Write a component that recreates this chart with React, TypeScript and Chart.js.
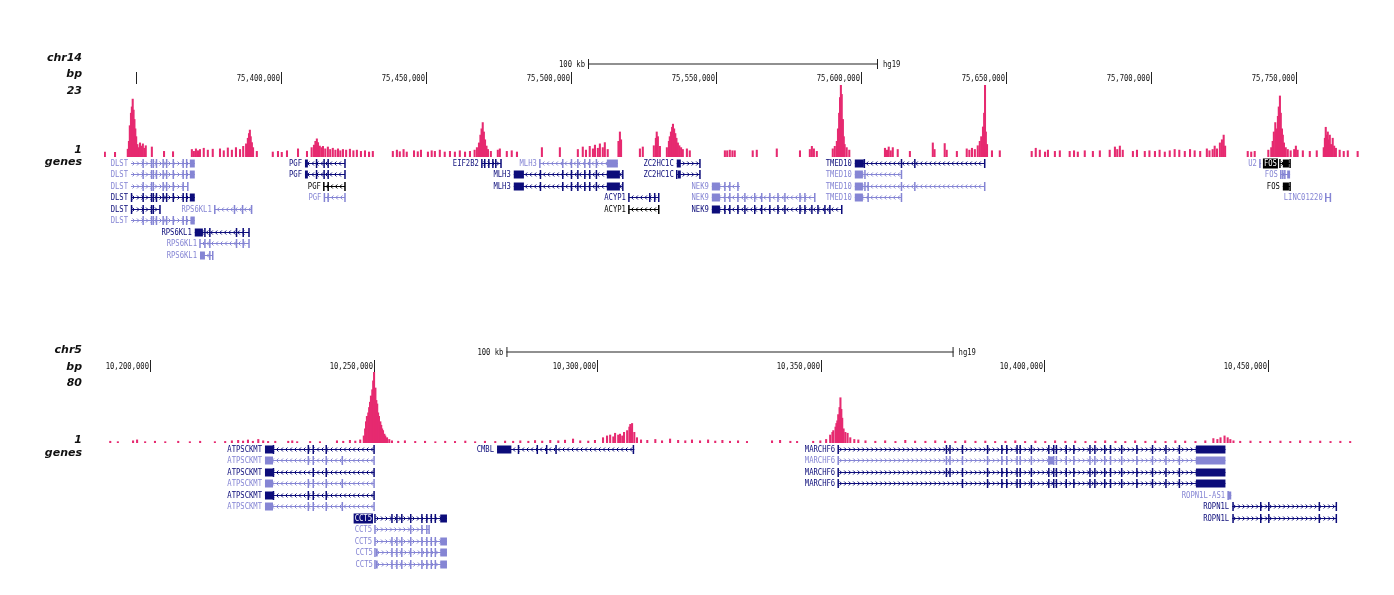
import { useEffect, useRef } from "react";
import { Chart, registerables } from "chart.js";

Chart.register(...registerables);

// ---------------- data ----------------
// chr14 view (kb) and signal bars [position kb, value]
const chr14Range = [75339.0, 75772.8];
const chr14Ticks = [75350, 75400, 75450, 75500, 75550, 75600, 75650, 75700, 75750];
const chr14TickLabels = ["", "75,400,000", "75,450,000", "75,500,000", "75,550,000", "75,600,000", "75,650,000", "75,700,000", "75,750,000"];
const chr14Signal: number[][] = [
  [75339.3, 1.6], [75342.8, 1.5],
  [75347.2, 2.5], [75347.6, 5], [75347.9, 10], [75348.3, 14], [75348.6, 16], [75348.9, 18.5], [75349.2, 15], [75349.5, 12], [75349.8, 9], [75350.1, 6.5], [75350.5, 4], [75350.9, 3],
  [75351.4, 4.5], [75351.9, 3.5], [75352.4, 4.2], [75352.9, 2.8], [75353.4, 3.6], [75355.5, 3.2], [75359.7, 1.8], [75362.8, 1.7],
  [75369.3, 2.4], [75370.0, 1.8], [75370.7, 2.6], [75371.4, 2.0], [75372.1, 2.4], [75373.4, 2.8], [75374.8, 2.2], [75376.5, 2.5], [75379.0, 2.6], [75380.3, 2.0], [75381.7, 2.9], [75383.1, 2.2], [75384.5, 3.0], [75385.9, 2.4], [75387.0, 3.4], [75388.0, 4.2], [75388.6, 6], [75389.0, 7.5], [75389.3, 8.6], [75389.6, 6.5], [75390.0, 4.6], [75390.4, 3], [75391.7, 1.8],
  [75397.2, 1.6], [75399.0, 1.8], [75400.3, 1.5], [75402.1, 2.0], [75405.9, 2.6], [75409.0, 1.8],
  [75410.6, 3], [75411.4, 3.8], [75411.9, 5], [75412.4, 5.8], [75412.8, 4.6], [75413.4, 3.5], [75414.0, 3], [75414.5, 3.4], [75415.3, 2.6], [75416.2, 3.2], [75417.0, 2.4], [75417.9, 2.8], [75418.8, 2.2], [75419.7, 2.6], [75420.5, 2.0], [75421.4, 2.4], [75422.5, 2.2], [75423.8, 2.5], [75425.0, 2.0], [75426.2, 2.2], [75427.6, 1.8], [75429.0, 2.0], [75430.4, 1.6], [75431.7, 1.8],
  [75438.6, 1.8], [75440.0, 2.2], [75441.0, 1.7], [75442.3, 2.4], [75443.4, 1.6], [75445.9, 2.0], [75447.2, 1.7], [75448.3, 2.2], [75450.7, 1.6], [75452.0, 2.0], [75453.1, 1.8], [75454.8, 2.2], [75456.5, 1.6], [75458.3, 1.8], [75460.0, 1.6], [75461.7, 2.0], [75463.5, 1.6], [75465.2, 1.8],
  [75466.8, 2.2], [75467.6, 3], [75468.3, 4.5], [75468.8, 7], [75469.2, 9], [75469.6, 11], [75470.0, 8], [75470.4, 5.5], [75470.9, 3.5], [75471.4, 2.4], [75472.4, 1.8],
  [75474.8, 2.2], [75475.5, 2.6], [75477.9, 1.8], [75479.6, 2.0], [75481.4, 1.6], [75490.0, 3], [75496.2, 3],
  [75502.4, 2.4], [75504.1, 3.2], [75505.2, 2.2], [75506.5, 3.4], [75507.6, 2.6], [75508.3, 3.8], [75509.3, 2.8], [75510.0, 4.2], [75511.0, 3.0], [75511.7, 4.6], [75512.7, 2.4], [75516.4, 5], [75516.9, 8], [75517.3, 5.5],
  [75523.8, 2.6], [75524.8, 3.2], [75528.6, 3.6], [75529.3, 6], [75529.6, 8], [75530.0, 6.5], [75530.7, 3.4],
  [75533.1, 3], [75533.8, 5], [75534.1, 6.5], [75534.5, 8], [75534.9, 9.5], [75535.2, 10.5], [75535.6, 9], [75536.0, 7.5], [75536.4, 6], [75536.9, 4.5], [75537.4, 3.6], [75538.0, 3], [75538.6, 2.4], [75540.0, 2.6], [75541.0, 2.0],
  [75553.1, 2.0], [75553.9, 2.0], [75554.8, 2.2], [75555.7, 2.0], [75556.5, 2.0], [75562.7, 2.0], [75564.1, 2.2], [75571.0, 2.6], [75579.0, 2.0], [75582.4, 2.4], [75583.1, 3.4], [75583.8, 2.6], [75584.8, 1.8],
  [75590.3, 2.6], [75591.0, 3.4], [75591.7, 5], [75592.1, 9], [75592.5, 14], [75592.8, 19], [75593.1, 23], [75593.4, 20], [75593.8, 12], [75594.1, 6.5], [75594.4, 4], [75595.1, 3], [75596.0, 2.2],
  [75608.3, 2.8], [75609.0, 2.2], [75609.6, 3.2], [75610.3, 2.0], [75611.0, 3.0], [75612.7, 2.4], [75616.9, 1.8], [75624.8, 4.5], [75625.4, 2.4], [75628.9, 4.3], [75629.6, 2.2], [75633.1, 1.8], [75636.5, 2.6], [75637.4, 2.2], [75638.3, 2.8], [75639.3, 2.4],
  [75640.3, 3.6], [75641.0, 5], [75641.5, 6.5], [75642.1, 9.6], [75642.5, 14], [75642.8, 23], [75643.1, 8], [75643.5, 4], [75645.2, 2.0], [75647.9, 2.0],
  [75658.9, 1.8], [75660.3, 2.8], [75661.7, 2.2], [75663.5, 1.6], [75664.5, 2.2], [75666.9, 1.8], [75668.6, 2.0], [75672.0, 1.8], [75673.5, 2.0], [75674.8, 1.6], [75677.2, 2.0], [75680.0, 1.8], [75682.4, 2.0],
  [75685.8, 2.2], [75687.6, 3.2], [75688.4, 2.4], [75689.3, 3.5], [75690.3, 2.2],
  [75693.8, 1.8], [75695.2, 2.2], [75697.9, 1.8], [75699.5, 2.0], [75701.4, 1.8], [75703.0, 2.2], [75704.8, 1.6], [75706.5, 2.0], [75708.2, 2.4], [75709.8, 2.2], [75711.7, 1.8], [75713.5, 2.4], [75715.1, 2.0], [75717.0, 1.8], [75719.3, 2.6], [75720.2, 2.0],
  [75721.3, 2.4], [75722.0, 3.5], [75722.8, 2.6], [75723.8, 4.5], [75724.5, 5.5], [75725.1, 7], [75725.6, 3.5],
  [75733.4, 1.8], [75734.6, 1.6], [75735.8, 1.8],
  [75740.5, 2.2], [75741.5, 3], [75742.0, 5], [75742.4, 8], [75742.9, 11], [75743.4, 9], [75743.8, 13], [75744.1, 16], [75744.5, 19.5], [75744.8, 14], [75745.2, 9], [75745.5, 7], [75745.9, 4.5], [75746.5, 3], [75747.2, 2.4], [75748.2, 2.0], [75749.4, 2.4], [75750.0, 3.5], [75750.6, 2.2], [75752.4, 2.0], [75754.8, 1.8], [75757.2, 2.0],
  [75759.6, 3], [75760.0, 6], [75760.3, 9.5], [75760.6, 7], [75761.0, 8], [75761.4, 5.5], [75761.7, 7], [75762.1, 4], [75762.7, 6], [75763.2, 3.5], [75763.8, 2.8], [75765.1, 2.2], [75766.5, 1.8], [75767.9, 2.0], [75771.3, 1.8],
];

// chr5 view (kb) and signal bars [position kb, value]
const chr5Range = [10189.7, 10469.7];
const chr5Ticks = [10200, 10250, 10300, 10350, 10400, 10450];
const chr5TickLabels = ["10,200,000", "10,250,000", "10,300,000", "10,350,000", "10,400,000", "10,450,000"];
const chr5Signal: number[][] = [
  [10191.1, 2], [10192.8, 1.5], [10196.2, 2.5], [10197.1, 3.5], [10198.9, 1.5], [10201.1, 2], [10203.4, 1.5], [10206.3, 2], [10208.9, 1.5], [10211.2, 2], [10214.5, 1.5], [10216.8, 1.8],
  [10218.3, 2.5], [10219.7, 3], [10220.8, 2.2], [10221.9, 3.4], [10223.0, 2], [10224.2, 4], [10225.3, 2.5], [10226.4, 1.8], [10228.0, 2], [10230.9, 2], [10231.8, 2.5], [10232.9, 1.5], [10235.8, 1.8], [10238.0, 1.5], [10241.8, 2.5], [10243.2, 2], [10244.7, 3], [10245.9, 2.2], [10247.0, 3.5],
  [10247.8, 8], [10248.1, 16], [10248.3, 24], [10248.5, 30], [10248.8, 34], [10249.0, 40], [10249.2, 46], [10249.4, 53], [10249.7, 60], [10249.9, 70], [10250.1, 80], [10250.4, 62], [10250.6, 48], [10250.8, 44], [10251.0, 34], [10251.2, 30], [10251.5, 24], [10251.7, 20], [10251.9, 16], [10252.1, 14], [10252.4, 10], [10252.6, 8], [10253.0, 6], [10253.5, 4],
  [10254.1, 2.5], [10255.5, 2], [10257.0, 2.5], [10259.3, 1.8], [10261.5, 2], [10263.8, 1.5], [10266.0, 2], [10268.2, 1.8], [10270.5, 2.2], [10272.7, 1.5], [10274.9, 2], [10277.2, 1.8], [10279.4, 2.2], [10281.2, 2], [10282.8, 2.5], [10284.6, 2], [10286.1, 2.8], [10287.7, 2.2], [10289.5, 3], [10291.3, 2.5], [10292.8, 3.2], [10294.6, 4.5], [10296.2, 2.5], [10298.0, 2.2], [10299.5, 3],
  [10301.3, 6], [10302.2, 8], [10302.9, 9], [10303.6, 7], [10304.0, 11], [10304.7, 9], [10305.1, 10], [10305.6, 8], [10306.0, 12], [10306.7, 14], [10307.2, 18], [10307.4, 21], [10307.6, 16], [10307.8, 22], [10308.3, 12], [10308.9, 6], [10309.8, 3.5],
  [10311.2, 3], [10313.0, 4], [10314.5, 2.5], [10316.3, 4.5], [10318.1, 3], [10319.7, 2.5], [10321.2, 3.5], [10323.0, 2.5], [10324.8, 3.5], [10326.4, 2.2], [10328.0, 3], [10329.7, 2], [10331.5, 2.5], [10333.5, 1.8],
  [10339.1, 2.5], [10340.9, 3], [10343.2, 2], [10344.7, 1.8], [10348.3, 2], [10349.9, 2.5], [10351.2, 4],
  [10352.1, 9], [10352.6, 12], [10352.8, 14], [10353.3, 18], [10353.5, 22], [10353.7, 25], [10353.9, 32], [10354.2, 40], [10354.4, 51], [10354.6, 38], [10354.8, 28], [10355.1, 16], [10355.5, 12], [10356.0, 11], [10356.6, 6], [10357.5, 4], [10358.4, 3.5],
  [10360.0, 2.5], [10362.2, 2], [10364.4, 2.5], [10366.7, 1.8], [10368.9, 3], [10371.1, 2.2], [10373.4, 2], [10375.6, 2.5], [10377.8, 2.2], [10380.1, 1.8], [10382.3, 2.5], [10384.6, 2], [10386.8, 2.2], [10389.0, 1.8], [10391.3, 2], [10393.5, 2.5], [10395.7, 1.8], [10398.0, 2.2], [10400.2, 1.8], [10402.4, 2.5], [10404.7, 2], [10406.9, 2.2], [10409.2, 1.8], [10411.4, 2], [10413.6, 2.5], [10415.9, 2], [10418.1, 1.8], [10420.3, 2.5], [10422.6, 2], [10424.8, 2.2], [10427.1, 1.8], [10429.3, 2.5], [10431.5, 2.2], [10433.8, 1.8], [10436.0, 2.5],
  [10437.8, 5], [10438.7, 4], [10439.4, 6], [10440.3, 8], [10441.0, 6], [10441.6, 4], [10442.3, 2.5],
  [10443.8, 2], [10446.1, 2.2], [10448.3, 1.8], [10450.5, 2], [10452.8, 2.2], [10455.0, 1.8], [10457.2, 2.5], [10459.5, 2], [10461.7, 2.2], [10464.0, 1.8], [10466.2, 2], [10468.4, 1.8],
];

// genes: name, row, colour, strand, start kb, end kb, exon ticks kb, blocks kb, boxed label
type Gene = { name: string; row: number; color: string; strand: number; start: number; end: number; exons: number[]; blocks: number[][]; boxed?: boolean };
const G = (name: string, row: number, color: string, strand: number, start: number, end: number, exons: number[], blocks: number[][] = [], boxed = false): Gene =>
  ({ name, row, color, strand, start, end, exons, blocks, boxed });

const dlstEx = [75352.5, 75355.4, 75356.0, 75357.1, 75359.4, 75360.6, 75362.9, 75366.3, 75367.5];
const nek9Ex = [75553.1, 75554.8, 75557.6, 75560.0, 75563.4, 75565.8, 75568.6, 75571.4, 75573.8, 75579.0, 75580.7, 75583.1, 75585.2, 75587.6, 75589.3, 75593.4];
const chr14Genes: Gene[] = [
  G("DLST", 0, "light", 1, 75348.3, 75370.3, dlstEx, [[75368.6, 75370.3]]),
  G("DLST", 1, "light", 1, 75348.3, 75370.3, dlstEx, [[75368.6, 75370.3]]),
  G("DLST", 2, "light", 1, 75348.3, 75367.9, [75352.5, 75355.4, 75356.0, 75359.4, 75360.6, 75362.9, 75366.3, 75367.9]),
  G("DLST", 3, "dark", 1, 75348.3, 75370.3, [75348.5, ...dlstEx], [[75368.6, 75370.3]]),
  G("DLST", 4, "dark", 1, 75348.3, 75358.3, [75348.5, 75352.5, 75355.4, 75356.0, 75358.3]),
  G("DLST", 5, "light", 1, 75348.3, 75370.3, dlstEx, [[75368.8, 75370.3]]),
  G("RPS6KL1", 4, "light", -1, 75377.2, 75389.9, [75377.2, 75384.0, 75386.8, 75389.9]),
  G("RPS6KL1", 6, "dark", -1, 75370.3, 75389.0, [75373.8, 75375.5, 75384.7, 75387.0, 75389.0], [[75370.3, 75373.1]]),
  G("RPS6KL1", 7, "light", -1, 75372.1, 75389.0, [75372.1, 75373.8, 75375.5, 75384.7, 75387.0, 75389.0]),
  G("RPS6KL1", 8, "light", -1, 75372.1, 75376.5, [75375.5, 75376.5], [[75372.1, 75373.8]]),
  G("PGF", 0, "dark", -1, 75408.3, 75422.1, [75412.3, 75414.9, 75416.3, 75422.1], [[75408.3, 75409.3]]),
  G("PGF", 1, "dark", -1, 75408.3, 75422.1, [75412.3, 75414.9, 75416.3, 75422.1], [[75408.3, 75409.3]]),
  G("PGF", 2, "black", -1, 75414.8, 75422.1, [75414.8, 75416.3, 75422.1]),
  G("PGF", 3, "light", -1, 75415.0, 75422.1, [75415.0, 75416.3, 75422.1]),
  G("EIF2B2", 0, "dark", 1, 75469.3, 75475.9, [75469.3, 75470.3, 75471.7, 75473.1, 75474.1, 75475.9]),
  G("MLH3", 0, "light", -1, 75489.3, 75516.2, [75489.3, 75497.2, 75500.2, 75502.4, 75504.8, 75506.5, 75508.8], [[75512.4, 75516.2]]),
  G("MLH3", 1, "dark", -1, 75480.3, 75517.9, [75489.5, 75497.2, 75500.2, 75502.4, 75504.8, 75506.5, 75508.8, 75517.9], [[75480.3, 75483.8], [75512.4, 75516.9]]),
  G("MLH3", 2, "dark", -1, 75480.3, 75517.9, [75489.5, 75497.2, 75500.2, 75502.4, 75504.8, 75506.5, 75508.8, 75517.9], [[75480.3, 75483.8], [75512.4, 75516.9]]),
  G("ACYP1", 3, "dark", -1, 75520.0, 75530.3, [75520.0, 75527.2, 75528.9, 75530.3]),
  G("ACYP1", 4, "black", -1, 75520.0, 75530.3, [75520.0, 75530.3]),
  G("ZC2HC1C", 0, "dark", 1, 75536.5, 75544.5, [75544.5], [[75536.5, 75537.9]]),
  G("ZC2HC1C", 1, "dark", 1, 75536.5, 75544.5, [75536.5, 75544.5], [[75536.9, 75537.9]]),
  G("NEK9", 2, "light", -1, 75548.6, 75558.3, [75553.1, 75554.8, 75557.6], [[75548.6, 75551.4]]),
  G("NEK9", 3, "light", -1, 75548.6, 75584.1, [75553.1, 75554.8, 75557.6, 75560.0, 75563.4, 75565.8, 75568.6, 75571.4, 75573.8, 75579.0, 75580.7, 75584.1], [[75548.6, 75551.4]]),
  G("NEK9", 4, "dark", -1, 75548.6, 75593.4, nek9Ex, [[75548.6, 75551.4]]),
  G("TMED10", 0, "dark", -1, 75597.9, 75642.7, [75601.2, 75614.0, 75618.6, 75642.7], [[75597.9, 75601.0]]),
  G("TMED10", 1, "light", -1, 75597.9, 75614.0, [75601.4, 75614.0], [[75597.9, 75600.7]]),
  G("TMED10", 2, "light", -1, 75597.9, 75642.7, [75601.4, 75602.5, 75614.0, 75618.6, 75642.7], [[75597.9, 75600.7]]),
  G("TMED10", 3, "light", -1, 75597.9, 75614.0, [75602.5, 75614.0], [[75597.9, 75600.7]]),
  G("U2", 0, "light", 1, 75737.6, 75738.0, [75737.6]),
  G("FOS", 0, "black", 1, 75744.5, 75748.0, [75744.5, 75748.0], [[75745.5, 75747.6]], true),
  G("FOS", 1, "light", 1, 75744.8, 75748.0, [75744.8, 75745.5, 75746.2], [[75747.0, 75748.0]]),
  G("FOS", 2, "black", 1, 75745.5, 75748.0, [75748.0], [[75745.5, 75747.6]]),
  G("LINC01220", 3, "light", 1, 75760.3, 75761.9, [75760.3, 75761.9]),
];

const atpDarkEx = [10227.6, 10235.4, 10236.5, 10239.4, 10250.1];
const atpLightEx = [10235.4, 10236.5, 10239.4, 10243.0, 10250.1];
const cct5Ex = [10250.3, 10254.1, 10255.2, 10256.3, 10258.3, 10260.8, 10261.9, 10262.9, 10263.8];
const marchEx = [10353.9, 10378.1, 10378.9, 10381.7, 10387.3, 10390.5, 10391.6, 10393.9, 10394.6, 10397.1, 10401.0, 10402.1, 10402.7, 10404.9, 10406.6, 10410.2, 10411.3, 10413.5, 10414.8, 10417.3, 10420.7, 10424.2, 10427.2, 10430.2];
const ropEx = [10442.2, 10448.4, 10450.2, 10461.5, 10465.3];
const chr5Genes: Gene[] = [
  G("ATPSCKMT", 0, "dark", -1, 10225.7, 10250.1, atpDarkEx, [[10225.7, 10227.5]]),
  G("ATPSCKMT", 1, "light", -1, 10225.7, 10250.1, atpLightEx, [[10225.7, 10227.5]]),
  G("ATPSCKMT", 2, "dark", -1, 10225.7, 10250.1, [10227.6, 10236.5, 10239.4, 10250.1], [[10225.7, 10227.5]]),
  G("ATPSCKMT", 3, "light", -1, 10225.7, 10250.1, atpLightEx, [[10225.7, 10227.5]]),
  G("ATPSCKMT", 4, "dark", -1, 10225.7, 10250.1, atpDarkEx, [[10225.7, 10227.5]]),
  G("ATPSCKMT", 5, "light", -1, 10225.7, 10250.1, atpLightEx, [[10225.7, 10227.5]]),
  G("CCT5", 6, "dark", 1, 10250.3, 10266.4, cct5Ex, [[10264.9, 10266.4]], true),
  G("CCT5", 7, "light", 1, 10250.3, 10262.4, [10250.3, 10258.3, 10260.8, 10261.9, 10262.4]),
  G("CCT5", 8, "light", 1, 10250.3, 10266.4, cct5Ex, [[10264.9, 10266.4]]),
  G("CCT5", 9, "light", 1, 10250.5, 10266.4, cct5Ex, [[10250.5, 10250.9], [10264.9, 10266.4]]),
  G("CCT5", 10, "light", 1, 10250.5, 10266.4, cct5Ex, [[10250.5, 10250.9], [10264.9, 10266.4]]),
  G("CMBL", 0, "dark", -1, 10277.6, 10308.3, [10282.4, 10286.6, 10288.7, 10290.8, 10308.1], [[10277.6, 10280.8]]),
  G("MARCHF6", 0, "dark", 1, 10353.9, 10440.5, marchEx, [[10433.9, 10440.5]]),
  G("MARCHF6", 1, "light", 1, 10353.9, 10440.5, marchEx, [[10401.0, 10402.1], [10433.9, 10440.5]]),
  G("MARCHF6", 2, "dark", 1, 10353.9, 10440.5, marchEx, [[10433.9, 10440.5]]),
  G("MARCHF6", 3, "dark", 1, 10353.9, 10440.5, marchEx.filter((e) => e < 10378 || e > 10379), [[10433.9, 10440.5]]),
  G("ROPN1L-AS1", 4, "light", -1, 10441.1, 10441.8, [10441.1], [[10441.1, 10441.8]]),
  G("ROPN1L", 5, "dark", 1, 10442.0, 10465.3, ropEx),
  G("ROPN1L", 6, "dark", 1, 10442.0, 10465.3, ropEx),
];

// ---------------- styling / layout ----------------
const PINK = "#e62a70";
const GENE_COLORS: Record<string, string> = { dark: "#0c0c7a", light: "#8585d4", black: "#000000" };
const MONO = "9px 'DejaVu Sans Mono', monospace";
const SIDE = "italic bold 11px 'DejaVu Sans', sans-serif";

type Panel = {
  id: string; width: number; height: number; range: number[]; yMax: number; signal: number[][];
  ticks: number[]; tickLabels: string[]; genes: Gene[];
  padding: { left: number; right: number; top: number; bottom: number };
  side: [string, number][]; scaleY: number; axisY: number; rowY0: number; rowH: number;
};

const panels: Panel[] = [
  {
    id: "chr14", width: 1394, height: 300, range: chr14Range, yMax: 23, signal: chr14Signal,
    ticks: chr14Ticks, tickLabels: chr14TickLabels, genes: chr14Genes,
    padding: { left: 104, right: 32, top: 85, bottom: 143 },
    side: [["chr14", 58], ["bp", 74], ["23", 91], ["1", 150], ["genes", 162]],
    scaleY: 64, axisY: 78, rowY0: 162.5, rowH: 11.5,
  },
  {
    id: "chr5", width: 1394, height: 295, range: chr5Range, yMax: 80, signal: chr5Signal,
    ticks: chr5Ticks, tickLabels: chr5TickLabels, genes: chr5Genes,
    padding: { left: 104, right: 38, top: 72, bottom: 152 },
    side: [["chr5", 50], ["bp", 67], ["80", 83], ["1", 140], ["genes", 153]],
    scaleY: 52, axisY: 66, rowY0: 149, rowH: 11.45,
  },
];

function smallText(ctx: CanvasRenderingContext2D, text: string, x: number, y: number, align: CanvasTextAlign, color: string) {
  ctx.save();
  ctx.translate(x, y);
  ctx.scale(0.8, 1);
  ctx.font = MONO;
  ctx.textAlign = align;
  ctx.textBaseline = "middle";
  ctx.fillStyle = color;
  ctx.fillText(text, 0, 0.5);
  ctx.restore();
}
function smallWidth(ctx: CanvasRenderingContext2D, text: string) {
  ctx.save();
  ctx.font = MONO;
  const w = ctx.measureText(text).width * 0.8;
  ctx.restore();
  return w;
}

function makePlugin(p: Panel) {
  return {
    id: "ucsc_" + p.id,
    beforeDraw(chart: Chart) {
      const ctx = chart.ctx;
      ctx.save();
      ctx.fillStyle = "#ffffff";
      ctx.fillRect(0, 0, chart.width, chart.height);
      ctx.restore();
    },
    afterDatasetsDraw(chart: Chart) {
      const ctx = chart.ctx;
      const xs = chart.scales.x;
      const px = (v: number) => xs.getPixelForValue(v);
      ctx.save();

      // side labels
      ctx.font = SIDE;
      ctx.textAlign = "right";
      ctx.textBaseline = "middle";
      ctx.fillStyle = "#111";
      p.side.forEach(([t, y]) => ctx.fillText(t, 82, y));

      // scale bar (100 kb, centred on the view)
      const c = (p.range[0] + p.range[1]) / 2;
      const a = px(c - 50), b = px(c + 50);
      ctx.fillStyle = "#222";
      ctx.fillRect(a, p.scaleY - 0.5, b - a, 1);
      ctx.fillRect(a, p.scaleY - 5, 1, 10);
      ctx.fillRect(b - 1, p.scaleY - 5, 1, 10);
      smallText(ctx, "100 kb", a - 3, p.scaleY, "right", "#111");
      smallText(ctx, "hg19", b + 5, p.scaleY, "left", "#111");

      // position axis
      p.ticks.forEach((t, i) => {
        const x = Math.round(px(t));
        ctx.fillStyle = "#222";
        ctx.fillRect(x, p.axisY - 6, 1, 12);
        if (p.tickLabels[i]) smallText(ctx, p.tickLabels[i], x - 1, p.axisY, "right", "#111");
      });

      // genes
      p.genes.forEach((g) => {
        const col = GENE_COLORS[g.color];
        const y = Math.round(p.rowY0 + g.row * p.rowH) + 0.5;
        const x1 = px(g.start), x2 = px(g.end);
        ctx.fillStyle = col;
        ctx.strokeStyle = col;
        ctx.fillRect(x1, y - 0.5, Math.max(1, x2 - x1), 1);
        ctx.lineWidth = 1;
        ctx.beginPath();
        for (let x = x1 + 3; x < x2 - 2; x += 4.5) {
          const d = g.strand;
          ctx.moveTo(x - 1.5 * d, y - 2);
          ctx.lineTo(x + 0.5 * d, y);
          ctx.lineTo(x - 1.5 * d, y + 2);
        }
        ctx.stroke();
        g.exons.forEach((e) => {
          const x = px(e);
          ctx.fillRect(x - 0.75, y - 4.5, 1.5, 9);
        });
        g.blocks.forEach(([s, e]) => {
          const a1 = px(s), b1 = px(e);
          ctx.fillRect(a1, y - 4, Math.max(1.5, b1 - a1), 8);
        });
        const lx = x1 - 3;
        if (g.boxed) {
          const w = smallWidth(ctx, g.name);
          ctx.fillStyle = col;
          ctx.fillRect(lx - w - 1, y - 5, w + 2, 10);
          smallText(ctx, g.name, lx, y, "right", "#ffffff");
        } else {
          smallText(ctx, g.name, lx, y, "right", col);
        }
      });
      ctx.restore();
    },
  };
}

function buildConfig(p: Panel): any {
  return {
    type: "bar",
    data: {
      datasets: [
        {
          data: p.signal.map(([x, y]) => ({ x, y })),
          backgroundColor: PINK,
          borderWidth: 0,
          barThickness: 1.4,
        },
      ],
    },
    options: {
      responsive: false,
      maintainAspectRatio: false,
      animation: false,
      events: [],
      layout: { padding: p.padding },
      scales: {
        x: { type: "linear", min: p.range[0], max: p.range[1], offset: false, display: false },
        y: { min: 0, max: p.yMax, display: false },
      },
      plugins: { legend: { display: false }, tooltip: { enabled: false } },
    },
    plugins: [makePlugin(p)],
  };
}

export default function App() {
  const ref1 = useRef<HTMLCanvasElement>(null);
  const ref2 = useRef<HTMLCanvasElement>(null);
  useEffect(() => {
    const refs = [ref1, ref2];
    const charts = refs.map((r, i) => new Chart(r.current as HTMLCanvasElement, buildConfig(panels[i])));
    return () => charts.forEach((c) => c.destroy());
  }, []);
  return (
    <div style={{ position: "absolute", left: 0, top: 0, width: 1394, height: 595, background: "#fff" }}>
      <canvas ref={ref1} width={1394} height={300} style={{ position: "absolute", left: 0, top: 0, width: 1394, height: 300 }} />
      <canvas ref={ref2} width={1394} height={295} style={{ position: "absolute", left: 0, top: 300, width: 1394, height: 295 }} />
    </div>
  );
}
